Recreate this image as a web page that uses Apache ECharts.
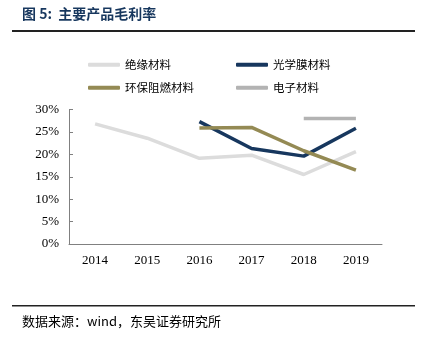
<!DOCTYPE html>
<html><head><meta charset="utf-8">
<script src="https://cdn.jsdelivr.net/npm/echarts@6/dist/echarts.min.js"></script>
<style>html,body{margin:0;padding:0;background:#fff}#c{width:423px;height:348px}</style>
</head><body><div id="c"></div>
<script>
var categories = ['2014','2015','2016','2017','2018','2019'];
var insulation = [26.8, 23.6, 19.1, 19.8, 15.5, 20.6];
var opticalFilm = [null, null, 27.3, 21.3, 19.6, 25.8];
var flameRetardant = [null, null, 25.9, 26.0, 20.8, 16.5];
var electronic = [null, null, null, null, 28.0, 28.0];
var yTicks = [0, 5, 10, 15, 20, 25, 30];

var chart = echarts.init(document.getElementById('c'));
var serif = '"Liberation Serif","Times New Roman",serif';
var cjk = '"Noto Sans CJK SC",sans-serif';
function ser(name, data, color){
  return {name:name, type:'line', data:data, symbol:'none', connectNulls:false,
    lineStyle:{width:3.5, color:color}, itemStyle:{color:color}};
}
var legendText = {fontSize:11.5, fontFamily:cjk, color:'#000'};
chart.setOption({
  animation:false,
  grid:{left:69, right:41, top:109.5, bottom:104},
  legend:[
    {data:['绝缘材料','光学膜材料'], left:88, top:59, itemWidth:32, itemHeight:4, itemGap:65, icon:'roundRect', textStyle:legendText, padding:0},
    {data:['环保阻燃材料','电子材料'], left:88, top:82, itemWidth:32, itemHeight:4, itemGap:42, icon:'roundRect', textStyle:legendText, padding:0}
  ],
  xAxis:{type:'category', data:categories, boundaryGap:true,
    axisLine:{lineStyle:{color:'#808080', width:1}},
    axisTick:{inside:true, length:4, lineStyle:{color:'#808080'}},
    axisLabel:{fontFamily:serif, fontSize:13, color:'#000', margin:10}},
  yAxis:{type:'value', min:yTicks[0], max:yTicks[yTicks.length-1], interval:5,
    axisLine:{show:true, lineStyle:{color:'#808080', width:1}},
    axisTick:{show:true, inside:true, length:4, lineStyle:{color:'#808080'}},
    splitLine:{show:false},
    axisLabel:{fontFamily:serif, fontSize:13, color:'#000', margin:10, formatter:'{value}%'}},
  series:[
    ser('绝缘材料', insulation, '#dcdcdc'),
    ser('光学膜材料', opticalFilm, '#17375e'),
    ser('环保阻燃材料', flameRetardant, '#948a54'),
    ser('电子材料', electronic, '#b3b3b3')
  ],
  graphic:[
    {type:'text', left:22, top:7, style:{text:'图 5:  主要产品毛利率', font:'bold 14px "Noto Sans CJK SC",sans-serif', fill:'#17375e'}},
    {type:'rect', shape:{x:12, y:30, width:403, height:2}, style:{fill:'#222'}},
    {type:'rect', shape:{x:12, y:305, width:403, height:1.5}, style:{fill:'#222'}},
    {type:'text', left:22, top:315, style:{text:'数据来源：wind，东吴证券研究所', font:'13px "Noto Sans CJK SC",sans-serif', fill:'#000'}}
  ]
});
</script></body></html>
